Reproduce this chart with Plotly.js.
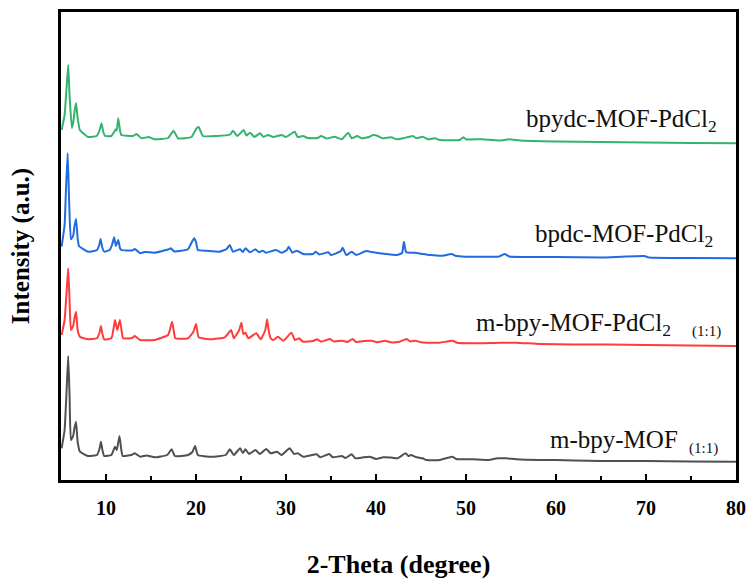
<!DOCTYPE html>
<html>
<head>
<meta charset="utf-8">
<script src="https://cdn.plot.ly/plotly-3.0.1.min.js"></script>
<style>html,body{margin:0;padding:0;background:#fff;}#chart{width:748px;height:581px;}</style>
</head>
<body>
<div id="chart"></div>
<script>
// 2-Theta positions (degree) and stacked intensities (a.u.)
const blackTheta = [5.07,5.4,5.6,5.8,5.95,6.1,6.35,6.5,6.67,6.85,7.1,8.0,9.0,9.3,9.44,9.6,9.8,10.6,11.0,11.2,11.5,11.7,11.85,12.8,13.2,13.8,14.5,15.4,16.8,17.3,17.65,19.1,19.6,19.9,20.2,21.7,23.3,23.75,24.2,24.9,25.2,25.5,25.9,26.6,27.1,27.8,28.3,29.0,29.5,30.4,30.9,31.3,31.9,33.4,33.8,34.8,35.2,36.2,36.6,37.3,37.7,38.5,39.3,40.0,40.8,41.6,42.4,43.3,43.6,43.9,44.4,45.2,45.6,47.1,48.5,48.9,50.8,52.5,53.5,54.5,55.6,58.2,60,62,65,70,75,80];
const blackInt = [31.7,50,85,124,85,40,44,52,58.3,38,28.3,24,25,32,38.3,30,24,25,33.3,30,44,30,24,25,26.7,23.3,24.5,22.7,25,30.7,24,25,28,34,25,23.3,25,30.7,25,31.7,27,30.7,26,30,26,31,26.7,28.3,25,31.7,26,26.7,23.3,25.7,22.7,26,22.7,24,22,25.7,21.7,22.5,23.3,21,22.7,22.5,21.7,26.7,24,25,23,21.7,20,20,23.3,21,20.7,20,21.7,21.7,20.7,20,20,19.5,19,19,18.5,18.3];

const redTheta = [5.07,5.4,5.6,5.8,5.95,6.1,6.35,6.5,6.67,6.85,7.1,8.0,9.0,9.3,9.44,9.6,9.8,10.6,10.85,11.0,11.25,11.55,11.75,11.9,12.9,13.2,13.8,15.4,16.9,17.15,17.35,17.55,17.7,19.1,19.7,20.0,20.3,21.7,23.2,23.9,24.2,24.8,25.05,25.25,25.5,25.8,26.7,27.2,27.7,27.9,28.1,28.3,28.6,29.1,29.7,30.6,31.0,31.45,31.9,33.0,33.45,33.9,34.9,35.3,36.3,36.8,37.4,37.8,38.7,39.5,40.1,41.0,41.6,42.6,43.4,43.8,44.4,45.0,45.6,47.1,48.5,49.0,50.8,53.7,55.6,58.2,62,66,70,75,80];
const redInt = [145,160,185,211.7,180,150,154,162,168.3,150,143.3,140.7,141.7,148,154,146,140.7,141.7,152,160,150,160,148,141.7,142,144,140,140,145,152,158.3,148,141.7,141.7,148,156,142.7,140.7,142.7,150,141.7,150,157.3,146,147.3,141.7,146.7,140.7,150,160.7,148,141.7,140,143.3,139.3,147.3,140,141.7,138.3,139,140.7,138.3,141,138.5,139.3,138,141,138,139,139.3,137.7,139.3,137.7,138.3,141,138.5,139.3,137.7,137.3,137.3,139.3,137.3,136.7,137.3,137.3,136,135.5,135.5,135,134.5,134];

const blueTheta = [5.07,5.4,5.55,5.74,5.9,6.1,6.35,6.5,6.67,6.85,7.0,8.0,9.0,9.25,9.4,9.6,9.8,10.4,10.7,10.9,11.1,11.36,11.55,11.7,12.9,13.2,13.8,14.3,15.4,16.9,17.2,17.6,19.1,19.6,19.8,20.0,20.2,21.2,22.6,23.4,23.75,24.1,24.9,25.2,25.5,26.0,26.6,27.0,27.4,27.8,28.9,29.5,30.1,30.3,30.7,31.2,31.9,33.0,33.3,33.7,34.7,35.0,36.1,36.3,36.7,37.3,37.8,38.9,39.7,41.1,42.3,42.9,43.1,43.35,44.3,45.2,46.0,47.4,48.4,48.8,50.0,53.7,54.3,54.8,60,65,69.8,70.3,75,80];
const blueInt = [233.3,255,290,326.7,280,240.7,244,254,261,242,234,228.3,230,235,241,232,228.3,230,236,242.7,234,240,232,230,229.5,231,226.7,228,227.3,230.5,231.7,228.5,230.7,239,241.7,238,230,229.3,228.3,231,235,228.3,230.7,228,231.7,227.7,230.7,227.7,229.3,227.3,230,227.3,230,233.3,227.3,229.3,226,226,228.3,225.5,227.7,225,229,232.3,225,228.3,225,229,227.7,226,225,227,238.3,227.7,227.3,226,225,224.3,226,224.3,223.3,223.5,226,223.5,223,222.5,224,222.5,222,221.7];

const greenTheta = [5.07,5.4,5.6,5.8,5.95,6.2,6.4,6.5,6.67,6.85,7.1,8.0,8.96,9.3,9.5,9.7,9.9,10.6,11.1,11.2,11.36,11.55,11.7,13.0,13.4,13.95,14.7,15.4,16.9,17.5,18.0,19.5,20.06,20.3,20.76,22.3,23.8,24.1,24.6,25.3,25.6,26.0,26.5,27.1,27.5,28.0,28.6,29.5,30.0,30.97,31.3,31.9,32.4,33.5,33.9,34.5,35.4,36.2,36.9,37.3,37.9,38.4,39.3,39.7,40.2,40.7,41.7,42.3,43.0,44.1,44.5,45.2,45.8,46.5,47.1,49.3,49.7,50.0,51.8,53.7,54.8,56,60,65,70,75,80];
const greenInt = [350,365,390,415,385,352,360,368,377,362,350,343,344,350,356.7,348,344,344,350.7,349.5,361.7,350,345,344,346,341.7,343,340.7,342,349.3,341.7,343,351.7,353,344,344,345.5,349.3,344,350,344.5,347.3,343,346.7,343,345,343,345,343,348.3,343,344,342,342,344,341.5,343.3,340.7,347.3,341.7,344,341.7,343.3,345,344,341.7,342.7,340.7,341.7,344,341.7,343.3,340.7,341.7,340,340,342.7,340.7,340.7,339.5,340.7,339.5,338.5,338,337.5,337,336.7];

const seriesNames = ["m-bpy-MOF (1:1)","m-bpy-MOF-PdCl2 (1:1)","bpdc-MOF-PdCl2","bpydc-MOF-PdCl2"];
const seriesColors = ["#505050","#ff3b3b","#1f6be0","#34b36e"];
const xTickVals = [10,20,30,40,50,60,70,80];

const xs = [blackTheta, redTheta, blueTheta, greenTheta];
const ys = [blackInt, redInt, blueInt, greenInt];
const traces = xs.map((x,i)=>({
  x: x, y: ys[i], type:'scatter', mode:'lines', name: seriesNames[i],
  line:{color: seriesColors[i], width:2, shape:'spline', smoothing:0.4}, hoverinfo:'skip'
}));

const serif = 'Liberation Serif, serif';
const lab = {family: serif, size: 25, color:'#111'};
const small = {family: serif, size: 15, color:'#111'};
const annotations = [
  {x:78.1, y:360, xref:'x', yref:'y', text:'bpydc-MOF-PdCl<sub>2</sub>', showarrow:false, xanchor:'right', yanchor:'middle', font:lab},
  {x:77.7, y:245, xref:'x', yref:'y', text:'bpdc-MOF-PdCl<sub>2</sub>', showarrow:false, xanchor:'right', yanchor:'middle', font:lab},
  {x:73.0, y:156, xref:'x', yref:'y', text:'m-bpy-MOF-PdCl<sub>2</sub>', showarrow:false, xanchor:'right', yanchor:'middle', font:lab},
  {x:78.6, y:149, xref:'x', yref:'y', text:'(1:1)', showarrow:false, xanchor:'right', yanchor:'middle', font:small},
  {x:73.8, y:41, xref:'x', yref:'y', text:'m-bpy-MOF', showarrow:false, xanchor:'right', yanchor:'middle', font:lab},
  {x:78.2, y:32, xref:'x', yref:'y', text:'(1:1)', showarrow:false, xanchor:'right', yanchor:'middle', font:small}
];

const layout = {
  width:748, height:581,
  margin:{l:61, r:12, t:12, b:101},
  paper_bgcolor:'#fff', plot_bgcolor:'#fff',
  showlegend:false,
  xaxis:{
    range:[5,80], tickvals:xTickVals, ticks:'inside', ticklen:6, tickwidth:2, tickcolor:'#000',
    minor:{dtick:5, tick0:0, ticks:'inside', ticklen:4, tickwidth:2, tickcolor:'#000'},
    showline:true, linewidth:2.5, linecolor:'#000', mirror:true, showgrid:false, zeroline:false,
    tickfont:{family:serif, size:20, color:'#000', weight:'bold'}, ticklabelstandoff:8,
    title:{text:'2-Theta (degree)', font:{family:serif, size:26, color:'#000', weight:'bold'}, standoff:38}
  },
  yaxis:{
    range:[0,468], showticklabels:false, ticks:'', showgrid:false, zeroline:false,
    showline:true, linewidth:2.5, linecolor:'#000', mirror:true,
    title:{text:'Intensity (a.u.)', font:{family:serif, size:25, color:'#000', weight:'bold'}, standoff:22}
  },
  annotations: annotations
};
Plotly.newPlot('chart', traces, layout, {displayModeBar:false});
</script>
</body>
</html>
